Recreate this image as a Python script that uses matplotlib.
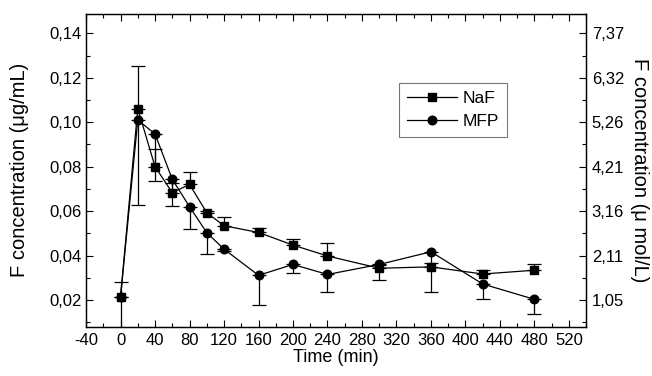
import numpy as np
import matplotlib
matplotlib.use("Agg")
import matplotlib.pyplot as plt
from matplotlib.lines import Line2D
from matplotlib.ticker import MultipleLocator, FuncFormatter

plt.rcParams['font.family'] = ['Liberation Sans', 'DejaVu Sans']
plt.rcParams['axes.unicode_minus'] = False

times = [0, 20, 40, 60, 80, 100, 120, 160, 200, 240, 300, 360, 420, 480]
naf = [0.0215, 0.1061, 0.0800, 0.0683, 0.0720, 0.0593, 0.0534, 0.0504, 0.0447, 0.0398, 0.0343, 0.0349, 0.0317, 0.0334]
naf_err_up = [0.0065, 0.0192, 0.0080, 0.0042, 0.0056, 0.0009, 0.0039, 0.0020, 0.0027, 0.0057, 0.0015, 0.0016, 0.0018, 0.0027]
mfp = [0.0215, 0.1010, 0.0947, 0.0743, 0.0620, 0.0503, 0.0429, 0.0311, 0.0360, 0.0315, 0.0360, 0.0417, 0.0272, 0.0203]
mfp_err_down = [0.0160, 0.0383, 0.0212, 0.0121, 0.0102, 0.0098, 0.0010, 0.0132, 0.0040, 0.0079, 0.0070, 0.0183, 0.0069, 0.0065]

left_ticks = [0.02, 0.04, 0.06, 0.08, 0.10, 0.12, 0.14]
right_labels = ['1,05', '2,11', '3,16', '4,21', '5,26', '6,32', '7,37']
x_ticks = list(range(-40, 521, 40))

fig = plt.figure(figsize=(6.52, 3.76), dpi=100)
ax = fig.add_axes([0.132, 0.130, 0.767, 0.834])

zeros = np.zeros(len(times))
ax.errorbar(times, naf, yerr=[zeros, naf_err_up], color='black', marker='s',
            markersize=5.6, lw=0.9, elinewidth=0.9, capsize=5, capthick=0.9, zorder=3)
ax.errorbar(times, mfp, yerr=[mfp_err_down, zeros], color='black', marker='o',
            markersize=6.2, lw=0.9, elinewidth=0.9, capsize=5, capthick=0.9, zorder=3)

ax.set_xlim(-40, 540)
ax.set_ylim(0.0078, 0.1489)
ax.set_xticks(x_ticks)
ax.xaxis.set_minor_locator(MultipleLocator(20))
ax.set_yticks(left_ticks)
ax.yaxis.set_minor_locator(MultipleLocator(0.01))
ax.yaxis.set_major_formatter(FuncFormatter(lambda v, p: f"{v:.2f}".replace('.', ',')))

ax.tick_params(which='both', direction='in', top=True, labelsize=12, width=0.8)
ax.tick_params(which='major', length=5)
ax.tick_params(which='minor', length=3)
ax.tick_params(axis='x', pad=4)
ax.tick_params(axis='y', pad=3)

ax.set_xlabel('Time (min)', fontsize=13, labelpad=1)
ax.set_ylabel('F concentration (μg/mL)', fontsize=14.5, labelpad=15)

ax2 = ax.twinx()
ax2.set_ylim(ax.get_ylim())
ax2.set_yticks(left_ticks)
ax2.set_yticklabels(right_labels)
ax2.yaxis.set_minor_locator(MultipleLocator(0.01))
ax2.tick_params(which='both', direction='in', labelsize=12, width=0.8, pad=4)
ax2.tick_params(which='major', length=5)
ax2.tick_params(which='minor', length=3)
ax2.set_ylabel('F concentration (μ mol/L)', fontsize=14.5, rotation=270, labelpad=18)

for a in (ax, ax2):
    for s in a.spines.values():
        s.set_linewidth(0.9)

handles = [Line2D([], [], color='black', lw=0.9, marker='s', markersize=5.6),
           Line2D([], [], color='black', lw=0.9, marker='o', markersize=6.2)]
leg = ax.legend(handles, ['NaF', 'MFP'], loc='upper left', bbox_to_anchor=(0.626, 0.778),
                borderaxespad=0, fontsize=12.5, frameon=True, fancybox=False,
                edgecolor='#555555', handlelength=2.9, borderpad=0.45,
                labelspacing=0.45, handletextpad=0.3)
leg.get_frame().set_linewidth(0.8)

fig.savefig('out.png', dpi=100)
